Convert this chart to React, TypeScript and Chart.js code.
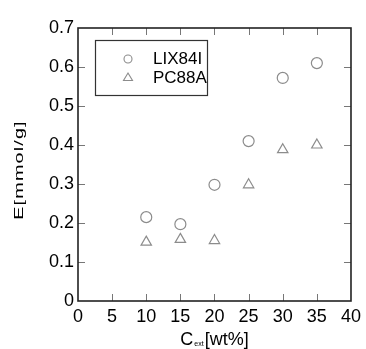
import React, { useEffect, useRef } from "react";
import { Chart, registerables } from "chart.js";

Chart.register(...registerables);

const concentrations = [10, 15, 20, 25, 30, 35];
const lix84iValues = [0.215, 0.197, 0.298, 0.41, 0.572, 0.61];
const pc88aValues = [0.151, 0.158, 0.155, 0.298, 0.388, 0.4];
const seriesNames = ["LIX84I", "PC88A"];
const xTitleMain = "C";
const xTitleSub = "ext";
const xTitleUnit = "[wt%]";
const yTitle = "E[mmol/g]";

const MARKER = "#8c8c8c";
const FONT = "'Liberation Sans', Arial, sans-serif";

const framePlugin = {
  id: "frame",
  afterDraw(chart: any) {
    const { ctx, chartArea } = chart;
    const { left, right, top, bottom } = chartArea;
    const xs = chart.scales.x;
    const ys = chart.scales.y;
    ctx.save();
    // inward ticks
    ctx.strokeStyle = "#777";
    ctx.lineWidth = 1;
    const tl = 7;
    xs.ticks.forEach((t: any) => {
      const px = Math.round(xs.getPixelForValue(t.value)) + 0.5;
      if (t.value <= xs.min || t.value >= xs.max) return;
      ctx.beginPath();
      ctx.moveTo(px, bottom);
      ctx.lineTo(px, bottom - tl);
      ctx.moveTo(px, top);
      ctx.lineTo(px, top + tl);
      ctx.stroke();
    });
    ys.ticks.forEach((t: any) => {
      const py = Math.round(ys.getPixelForValue(t.value)) + 0.5;
      if (t.value <= ys.min + 1e-9 || t.value >= ys.max - 1e-9) return;
      ctx.beginPath();
      ctx.moveTo(left, py);
      ctx.lineTo(left + tl, py);
      ctx.moveTo(right, py);
      ctx.lineTo(right - tl, py);
      ctx.stroke();
    });
    // frame
    ctx.strokeStyle = "#222";
    ctx.lineWidth = 1.6;
    ctx.strokeRect(left, top, right - left, bottom - top);

    // legend
    const lx = 95.5, ly = 40.5, lw = 112, lh = 55;
    ctx.fillStyle = "#fff";
    ctx.fillRect(lx, ly, lw, lh);
    ctx.strokeStyle = "#333";
    ctx.lineWidth = 1.2;
    ctx.strokeRect(lx, ly, lw, lh);
    ctx.strokeStyle = MARKER;
    ctx.lineWidth = 1.1;
    ctx.beginPath();
    ctx.arc(128, 59, 4, 0, Math.PI * 2);
    ctx.stroke();
    ctx.beginPath();
    ctx.moveTo(128, 73);
    ctx.lineTo(132.5, 80.5);
    ctx.lineTo(123.5, 80.5);
    ctx.closePath();
    ctx.stroke();
    ctx.fillStyle = "#000";
    ctx.font = `17px ${FONT}`;
    ctx.textBaseline = "middle";
    ctx.textAlign = "left";
    ctx.fillText(seriesNames[0], 153, 59);
    ctx.fillText(seriesNames[1], 153, 78);

    // x title
    const cx = (left + right) / 2;
    ctx.font = `18px ${FONT}`;
    const wC = ctx.measureText(xTitleMain).width;
    ctx.font = `7px ${FONT}`;
    const wS = ctx.measureText(xTitleSub).width;
    ctx.font = `18px ${FONT}`;
    const wU = ctx.measureText(xTitleUnit).width;
    const total = wC + wS + 2 + wU;
    let x0 = cx - total / 2;
    const base = 345;
    ctx.textBaseline = "alphabetic";
    ctx.fillText(xTitleMain, x0, base);
    x0 += wC + 1;
    ctx.font = `7px ${FONT}`;
    ctx.fillText(xTitleSub, x0, base + 1);
    x0 += wS + 1;
    ctx.font = `18px ${FONT}`;
    ctx.fillText(xTitleUnit, x0, base);

    // y title (stretched lengthwise)
    ctx.translate(20, 170);
    ctx.rotate(-Math.PI / 2);
    ctx.scale(1.65, 1);
    ctx.font = `12px ${FONT}`;
    try {
      (ctx as any).letterSpacing = "0.7px";
    } catch (e) {}
    ctx.textAlign = "center";
    ctx.textBaseline = "middle";
    ctx.fillText(yTitle, 0, 0);
    ctx.restore();
  },
};

export default function App() {
  const ref = useRef<HTMLCanvasElement>(null);
  useEffect(() => {
    if (!ref.current) return;
    const chart = new Chart(ref.current, {
      type: "scatter",
      data: {
        datasets: [
          {
            label: seriesNames[0],
            data: concentrations.map((x, i) => ({ x, y: lix84iValues[i] })),
            pointStyle: "circle",
            pointRadius: 5.5,
            borderColor: MARKER,
            backgroundColor: "rgba(0,0,0,0)",
            borderWidth: 1.2,
          },
          {
            label: seriesNames[1],
            data: concentrations.map((x, i) => ({ x, y: pc88aValues[i] })),
            pointStyle: "triangle",
            pointRadius: 6,
            borderColor: MARKER,
            backgroundColor: "rgba(0,0,0,0)",
            borderWidth: 1.2,
          },
        ],
      },
      options: {
        animation: false,
        responsive: false,
        layout: { padding: { left: 0, top: 28, right: 15, bottom: 0 } },
        plugins: { legend: { display: false }, tooltip: { enabled: false } },
        scales: {
          x: {
            type: "linear",
            min: 0,
            max: 40,
            grid: { display: false, drawTicks: false },
            border: { display: false },
            ticks: {
              stepSize: 5,
              color: "#000",
              font: { size: 18, family: FONT },
              padding: 5,
              maxRotation: 0,
            },
            afterFit: (s: any) => {
              s.height = 48;
            },
          },
          y: {
            type: "linear",
            min: 0,
            max: 0.7,
            grid: { display: false, drawTicks: false },
            border: { display: false },
            ticks: {
              stepSize: 0.1,
              color: "#000",
              font: { size: 18, family: FONT },
              padding: 4,
              callback: (v: any) => (Math.abs(v) < 1e-9 ? "0" : Number(v).toFixed(1)),
            },
            afterFit: (s: any) => {
              s.width = 78;
            },
          },
        },
      },
      plugins: [framePlugin],
    });
    return () => chart.destroy();
  }, []);
  return (
    <div style={{ position: "absolute", left: 0, top: 0, width: 366, height: 349, background: "#fff" }}>
      <canvas ref={ref} width={366} height={349} />
    </div>
  );
}
